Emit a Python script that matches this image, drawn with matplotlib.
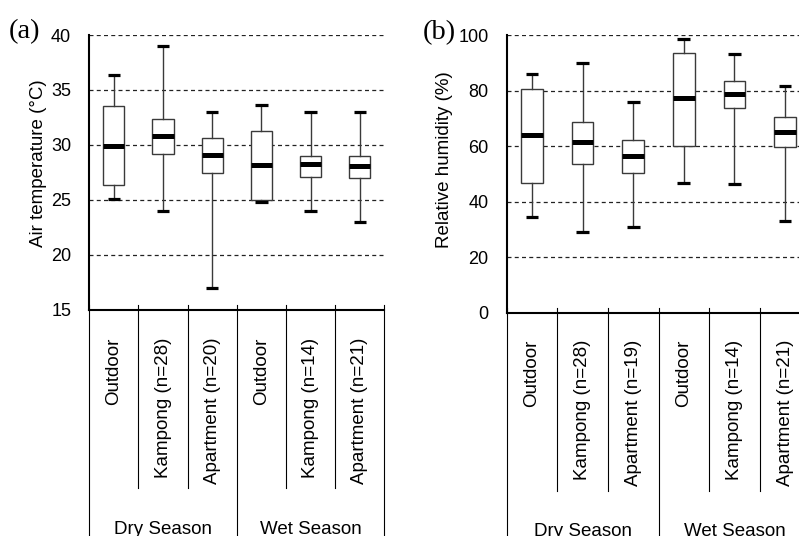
import matplotlib
matplotlib.use("Agg")
import matplotlib.pyplot as plt
from matplotlib.lines import Line2D
import matplotlib.transforms as mtrans

plt.rcParams['font.family'] = ['Liberation Sans', 'DejaVu Sans']

# ---------------- data ----------------
labels_a = ["Outdoor", "Kampong (n=28)", "Apartment (n=20)",
            "Outdoor", "Kampong (n=14)", "Apartment (n=21)"]
labels_b = ["Outdoor", "Kampong (n=28)", "Apartment (n=19)",
            "Outdoor", "Kampong (n=14)", "Apartment (n=21)"]
seasons = ["Dry Season", "Wet Season"]

t_min = [25.1, 24.0, 17.0, 24.8, 24.0, 23.0]
t_q1 = [26.3, 29.2, 27.45, 25.0, 27.05, 26.95]
t_med = [29.9, 30.8, 29.05, 28.15, 28.25, 28.05]
t_q3 = [33.5, 32.35, 30.65, 31.3, 28.95, 28.95]
t_max = [36.35, 39.0, 33.0, 33.6, 33.0, 33.0]

h_min = [34.3, 28.9, 31.0, 46.6, 46.2, 33.1]
h_q1 = [46.7, 53.5, 50.4, 60.1, 73.7, 59.5]
h_med = [63.9, 61.3, 56.4, 77.2, 78.8, 64.9]
h_q3 = [80.6, 68.7, 62.3, 93.6, 83.6, 70.5]
h_max = [86.1, 89.8, 75.9, 98.4, 93.0, 81.5]

W, H = 799, 536
fig = plt.figure(figsize=(W / 100, H / 100), dpi=100)


def fy(ypx):
    return 1 - ypx / H


def make_panel(rect_px, lo, q1, med, q3, hi, labels, ylim, yticks, ylabel,
               ylabel_pos, letter, letter_pos, sep_bottom, text_top, season_base):
    x0, x1, ytop, ybot = rect_px
    ax = fig.add_axes([x0 / W, fy(ybot), (x1 - x0) / W, (ybot - ytop) / H])
    stats = []
    for i in range(len(lo)):
        stats.append(dict(whislo=lo[i], q1=q1[i], med=med[i], q3=q3[i],
                          whishi=hi[i], fliers=[]))
    positions = list(range(1, len(lo) + 1))
    ax.bxp(stats, positions=positions, widths=0.43, capwidths=0.25,
           patch_artist=True, showfliers=False,
           boxprops=dict(facecolor='white', edgecolor='#3a3a3a', linewidth=1.0),
           whiskerprops=dict(color='#3a3a3a', linewidth=1.0),
           capprops=dict(color='black', linewidth=2.3, solid_capstyle='butt'),
           medianprops=dict(color='black', linewidth=3.6, solid_capstyle='butt'))
    ax.set_xlim(0.5, len(lo) + 0.5)
    ax.set_ylim(*ylim)
    ax.set_yticks(yticks)
    ax.set_xticks([])
    ax.set_axisbelow(True)
    ax.yaxis.grid(True, linestyle=(0, (3.2, 2.6)), color='#222222', linewidth=0.9)
    ax.tick_params(axis='y', length=0, pad=13, labelsize=13)
    for s in ['top', 'right']:
        ax.spines[s].set_visible(False)
    for s in ['left', 'bottom']:
        ax.spines[s].set_linewidth(1.5)
        ax.spines[s].set_color('black')
    ax.set_facecolor('none')

    tr = mtrans.blended_transform_factory(ax.transData, fig.transFigure)
    n = len(lo)
    for k in range(n + 1):
        xs = 0.5 + k
        major = (k % 3 == 0)
        yb = fy(H + 2) if major else fy(sep_bottom)
        ln = Line2D([xs, xs], [fy(ybot - 5), yb], transform=tr, color='black',
                    linewidth=0.8, clip_on=False)
        fig.add_artist(ln)
    for i, lab in enumerate(labels):
        fig.text(0, 0, lab, transform=tr, fontsize=13.5, rotation=90,
                 ha='center', va='top').set_position((i + 1, fy(text_top)))
    for g, s in enumerate(seasons):
        t = fig.text(0, 0, s, transform=tr, fontsize=13.5, ha='center',
                     va='baseline')
        t.set_position((2 + 3 * g, fy(season_base)))
    fig.text(ylabel_pos[0] / W, fy(ylabel_pos[1]), ylabel, rotation=90,
             ha='center', va='center', fontsize=13.5)
    fig.text(letter_pos[0] / W, fy(letter_pos[1]), letter, ha='left',
             va='baseline', fontsize=20.5, family=['Liberation Serif', 'DejaVu Serif'])
    return ax


make_panel((89.3, 384.3, 35, 309.5), t_min, t_q1, t_med, t_q3, t_max, labels_a,
           (15, 40), [15, 20, 25, 30, 35, 40], "Air temperature (\u00b0C)",
           (38.5, 163), "(a)", (9, 38.5), 488, 338, 533.5)
make_panel((506.7, 810.3, 35, 312.7), h_min, h_q1, h_med, h_q3, h_max, labels_b,
           (0, 100), [0, 20, 40, 60, 80, 100], "Relative humidity (%)",
           (444.5, 160), "(b)", (422.5, 39), 490.7, 340, 536.5)

fig.savefig("out.png", dpi=100)
